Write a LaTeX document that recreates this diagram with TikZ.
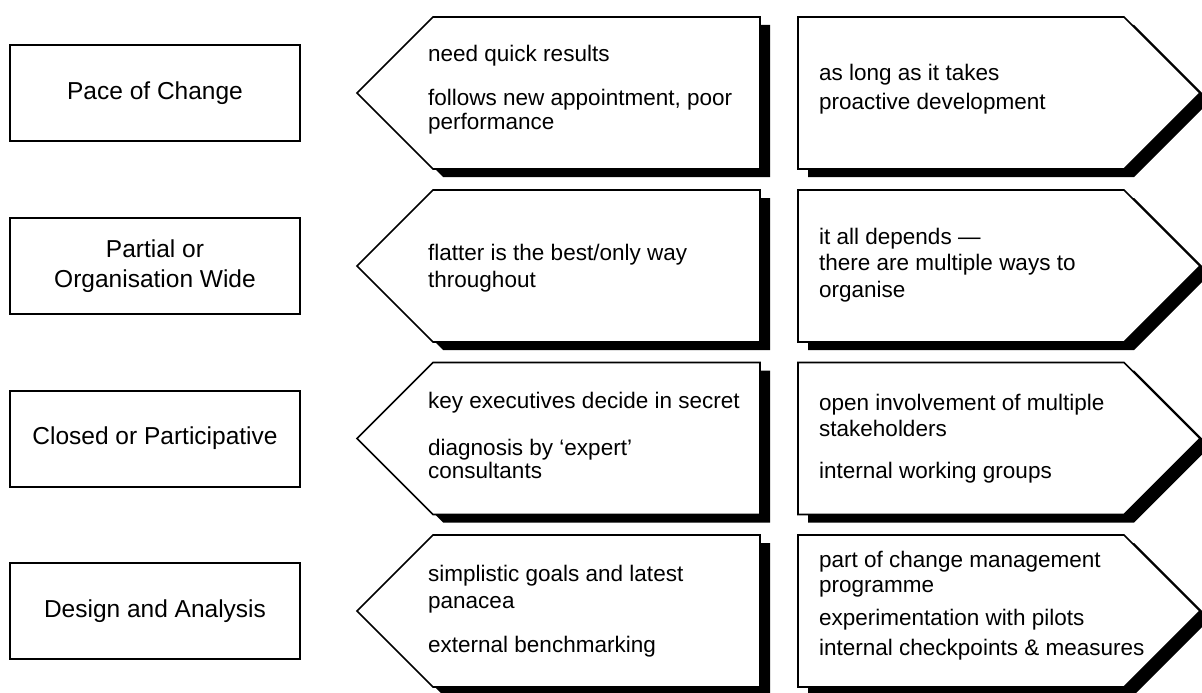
\documentclass[tikz,border=0pt]{standalone}
\usepackage{fontspec}
\setmainfont{Liberation Sans}
\begin{document}
\begin{tikzpicture}[x=1pt,y=-1pt,
  catbox/.style={draw, line width=2pt, minimum width=290pt, minimum height=96pt, inner sep=0pt,
    align=center, font=\fontsize{24.5}{30}\selectfont},
  arrowshape/.style={draw, fill=white, line width=1.6pt, line join=miter},
  shadowshape/.style={fill=black},
  txt/.style={anchor=base west, inner sep=0pt, font=\fontsize{22.5}{26}\selectfont}]
\useasboundingbox (0,0) rectangle (1202,693);
\clip (0,0) rectangle (1202,693);
\fill[white] (0,0) rectangle (1202,693);
% arrow shapes
\foreach \c in {93,266,438.5,611}{
  \fill[shadowshape, shift={(10,8)}] (357,\c) -- (433,\c-76) -- (760,\c-76) -- (760,\c+76) -- (433,\c+76) -- cycle;
  \draw[arrowshape] (357,\c) -- (433,\c-76) -- (760,\c-76) -- (760,\c+76) -- (433,\c+76) -- cycle;
  \fill[shadowshape, shift={(10,8)}] (798,\c-76) -- (1124,\c-76) -- (1200,\c) -- (1124,\c+76) -- (798,\c+76) -- cycle;
  \draw[arrowshape] (798,\c-76) -- (1124,\c-76) -- (1200,\c) -- (1124,\c+76) -- (798,\c+76) -- cycle;
}
% category boxes
\node[catbox] (pace) at (155,93) {Pace of Change};
\node[catbox] (partial) at (155,266) {Partial or\\Organisation Wide};
\node[catbox] (closed) at (155,438.5) {Closed or Participative};
\node[catbox] (design) at (155,611) {Design and Analysis};
% row 1
\node[txt] (l1a) at (428,62) {need quick results};
\node[txt] (l1b) at (428,106) {follows new appointment, poor};
\node[txt] (l1c) at (428,129) {performance};
\node[txt] (r1a) at (819,81) {as long as it takes};
\node[txt] (r1b) at (819,110) {proactive development};
% row 2
\node[txt] (l2a) at (428,260) {flatter is the best/only way};
\node[txt] (l2b) at (428,287) {throughout};
\node[txt] (r2a) at (819,244) {it all depends ---};
\node[txt] (r2b) at (819,270) {there are multiple ways to};
\node[txt] (r2c) at (819,297) {organise};
% row 3
\node[txt] (l3a) at (428,408) {key executives decide in secret};
\node[txt] (l3b) at (428,455) {diagnosis by `expert'};
\node[txt] (l3c) at (428,478) {consultants};
\node[txt] (r3a) at (819,410) {open involvement of multiple};
\node[txt] (r3b) at (819,436) {stakeholders};
\node[txt] (r3c) at (819,478) {internal working groups};
% row 4
\node[txt] (l4a) at (428,581) {simplistic goals and latest};
\node[txt] (l4b) at (428,608) {panacea};
\node[txt] (l4c) at (428,652) {external benchmarking};
\node[txt] (r4a) at (819,567) {part of change management};
\node[txt] (r4b) at (819,592) {programme};
\node[txt] (r4c) at (819,625) {experimentation with pilots};
\node[txt] (r4d) at (819,655) {internal checkpoints \& measures};
\end{tikzpicture}
\end{document}
